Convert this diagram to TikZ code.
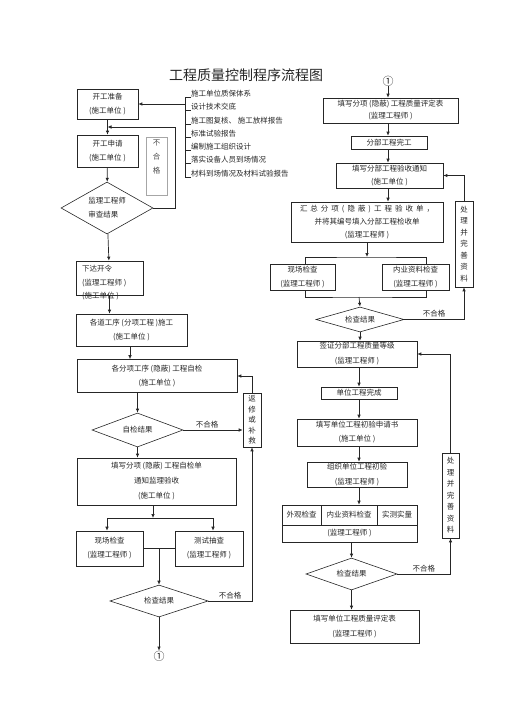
\documentclass[tikz,border=0pt]{standalone}
\usepackage{fontspec}
\setmainfont{Noto Sans CJK SC}
\usetikzlibrary{arrows.meta, positioning, shapes.geometric}

\begin{document}
\begin{tikzpicture}[x=1pt, y=-1pt,
  font=\fontsize{7.5pt}{14pt}\selectfont,
  every node/.style={text=black!85},
  box/.style={draw=black!85, line width=0.6pt, inner sep=0pt, align=center},
  vbox/.style={draw=black!85, line width=0.6pt, inner sep=0pt, align=center, font=\fontsize{7.5pt}{11.5pt}\selectfont},
  dia/.style={diamond, draw=black!85, line width=0.6pt, inner sep=0pt, align=center},
  item/.style={anchor=west, inner sep=0pt},
  lbl/.style={above, inner sep=2pt},
  arr/.style={-{Latex[length=4pt, width=3.5pt]}, line width=0.7pt, draw=black!85},
  lin/.style={line width=0.6pt, draw=black!85}
]
\useasboundingbox (0,0) rectangle (505,714);

\node (title) at (246,75) [font=\fontsize{14pt}{14pt}\selectfont] {工程质量控制程序流程图};

% left column
\node[box, minimum width=61pt, minimum height=30pt] (kaigong) at (107.5,104) {开工准备\\(施工单位 )};
\node[box, minimum width=61pt, minimum height=32pt] (shenqing) at (107.5,151) {开工申请\\(施工单位 )};
\node[draw=black!35, minimum width=21pt, minimum height=58pt, inner sep=0pt] (bhgbox) at (156.5,166) {};
\node[align=center, inner sep=0pt, text=black!70] (bhgtxt) at (156.5,157) {不\\合\\格};
\node[dia, aspect=1.8, minimum width=92pt, minimum height=52pt, align=left] (shencha) at (107,208) {监理工程师\\审查结果};
\node[box, minimum width=67pt, minimum height=34pt] (xiada) at (109.5,278) {};
\node[anchor=north west, align=left, inner sep=0pt, font=\fontsize{7.5pt}{13.5pt}\selectfont] (xiadatxt) at (82,265) {下达开令\\(监理工程师 )\\(施工单位 )};
\node[box, minimum width=111pt, minimum height=32pt] (gedao) at (131.5,330) {各道工序 (分项工程 )施工\\(施工单位 )};
\node[box, minimum width=160pt, minimum height=33pt] (zijian) at (157,376) {各分项工序 (隐蔽) 工程自检\\(施工单位 )};
\node[dia, aspect=2.7, minimum width=91pt, minimum height=34pt] (zjjg) at (137.5,430) {自检结果};
\node[vbox, minimum width=18pt, minimum height=54pt, font=\fontsize{7.5pt}{10.5pt}\selectfont] (fanxiu) at (252,420) {返\\修\\或\\补\\救};
\node[box, minimum width=159pt, minimum height=47pt, font=\fontsize{7.5pt}{15pt}\selectfont] (tianxie) at (156.5,481.5) {填写分项 (隐蔽) 工程自检单\\通知监理验收\\(施工单位 )};
\node[box, minimum width=67pt, minimum height=35pt] (xianchang1) at (109.5,548.5) {现场检查\\(监理工程师 )};
\node[box, minimum width=68pt, minimum height=35pt] (ceshi) at (209,548.5) {测试抽查\\(监理工程师 )};
\node[dia, aspect=3, minimum width=98pt, minimum height=32pt] (jcjg1) at (159,601) {检查结果};
\node[inner sep=0pt, font=\fontsize{11pt}{11pt}\selectfont] (quan1) at (159,656) {①};

% list of preparations
\node[item] (item1) at (191,94) {施工单位质保体系};
\node[item] (item2) at (191,107) {设计技术交底};
\node[item] (item3) at (191,121) {施工图复核、 施工放样报告};
\node[item] (item4) at (191,134) {标准试验报告};
\node[item] (item5) at (191,147) {编制施工组织设计};
\node[item] (item6) at (191,160) {落实设备人员到场情况};
\node[item] (item7) at (191,174) {材料到场情况及材料试验报告};
\draw[lin] (item1.south west) -- ++(-6,0) |- (item2.south west) ++(-6,0) |- (item3.south west)
  ++(-6,0) |- (item4.south west) ++(-6,0) |- (item5.south west) ++(-6,0) |- (item6.south west)
  ++(-6,0) |- (item7.south west);
\coordinate (brk) at (185,104);
\draw[arr] (brk) -- (kaigong);

\draw[arr] (kaigong) -- (shenqing);
\draw[arr] (shenqing) -- (shencha);
\coordinate (fb1) at (175,127);
\draw[arr] (shencha.east) -| (fb1) -- (fb1 -| kaigong.south);
\draw[arr] (shencha) -- (xiada);
\draw[arr] (xiada.south) -- (xiada.south |- gedao.north);
\draw[arr] ([xshift=-1.5pt]gedao.south) -- ([xshift=-1.5pt]gedao.south |- zijian.north);
\draw[arr] (zjjg.north |- zijian.south) -- (zjjg.north);
\draw[arr] (zjjg.east) -- node[lbl, pos=0.4] {不合格} (fanxiu.west |- zjjg.east);
\draw[arr] (fanxiu.north) |- (zijian.east);
\draw[arr] (zjjg.south) -- (zjjg.south |- tianxie.north);
\coordinate (split1) at (153,518);
\draw[arr] (split1 |- tianxie.south) -- (split1);
\draw[arr] (split1) -| ([xshift=-2.5pt]xianchang1.north);
\draw[arr] (split1) -| ([xshift=4pt]ceshi.north);
\draw[lin] (xianchang1) -- (ceshi);
\draw[arr] (jcjg1.north |- xianchang1.east) -- (jcjg1.north);
\draw[arr] (jcjg1.east) -| node[lbl, pos=0.25] {不合格} (fanxiu.south);
\draw[arr] (jcjg1) -- (quan1);

% right column
\node[inner sep=0pt, font=\fontsize{11pt}{11pt}\selectfont] (quan2) at (388,81) {①};
\node[box, minimum width=135pt, minimum height=25pt, font=\fontsize{7.5pt}{12pt}\selectfont] (pingding) at (390.5,110.5) {填写分项 (隐蔽) 工程质量评定表\\(监理工程师 )};
\node[box, minimum width=76pt, minimum height=13pt] (fenbu) at (389,142.5) {分部工程完工};
\node[box, minimum width=107pt, minimum height=25pt, font=\fontsize{7.5pt}{13.5pt}\selectfont] (tongzhi) at (389.5,175.5) {填写分部工程验收通知\\(施工单位 )};
\node[box, minimum width=152pt, minimum height=40pt, font=\fontsize{7.5pt}{13pt}\selectfont] (huizong) at (367,222)
  {\makebox[134pt][s]{汇\hfill 总\hfill 分\hfill 项\hfill (\hfill 隐\hfill 蔽\hfill )\hfill 工\hfill 程\hfill 验\hfill 收\hfill 单\hfill ，}\\
   并将其编号填入分部工程检收单\hspace*{22pt}\\(监理工程师 )};
\node[box, minimum width=65pt, minimum height=26pt] (xianchang2) at (302.5,277) {现场检查\\(监理工程师 )};
\node[box, minimum width=67pt, minimum height=26pt] (neiye) at (415.5,277) {内业资料检查\\(监理工程师 )};
\node[dia, aspect=3.5, minimum width=88pt, minimum height=25pt] (jcjg2) at (360,319.5) {检查结果};
\node[vbox, minimum width=18pt, minimum height=86pt] (chuli1) at (464,244) {处\\理\\并\\完\\善\\资\\料};
\node[box, minimum width=120pt, minimum height=26pt, font=\fontsize{7.5pt}{15pt}\selectfont] (qianzheng) at (357,354) {签证分部工程质量等级\\(监理工程师 )};
\node[box, minimum width=76pt, minimum height=12pt] (danwei) at (359,393) {单位工程完成};
\node[box, minimum width=120pt, minimum height=27pt] (chuyan) at (357,432.5) {填写单位工程初验申请书\\(施工单位 )};
\node[box, minimum width=100pt, minimum height=25pt, font=\fontsize{7.5pt}{15pt}\selectfont] (zuzhi) at (357,474.5) {组织单位工程初验\\(监理工程师 )};
\node[box, minimum width=39pt, minimum height=20pt] (waiguan) at (301.5,515) {外观检查};
\node[box, minimum width=56pt, minimum height=20pt] (neiye2) at (349,515) {内业资料检查};
\node[box, minimum width=40pt, minimum height=20pt] (shice) at (397,515) {实测实量};
\node[box, minimum width=135pt, minimum height=17pt] (jianli) at (349.5,533.5) {(监理工程师 )};
\node[dia, aspect=2.8, minimum width=91pt, minimum height=32pt] (jcjg3) at (351.5,574) {检查结果};
\node[vbox, minimum width=17pt, minimum height=85pt] (chuli2) at (450.5,495.5) {处\\理\\并\\完\\善\\资\\料};
\node[box, minimum width=129pt, minimum height=33pt, font=\fontsize{7.5pt}{15pt}\selectfont] (danweiping) at (354.5,626.5) {填写单位工程质量评定表\\(监理工程师 )};

\draw[arr] (quan2) -- (quan2 |- pingding.north);
\draw[arr] (quan2 |- pingding.south) -- (quan2 |- fenbu.north);
\draw[arr] (quan2 |- fenbu.south) -- (quan2 |- tongzhi.north);
\draw[arr] (quan2 |- tongzhi.south) -- (quan2 |- huizong.north);
\coordinate (split2) at (367,257);
\draw[arr] (huizong) -- (split2);
\draw[lin] ([xshift=2.5pt]xianchang2.north) |- (split2) -| ([xshift=10.5pt]neiye.north);
\coordinate (join2) at (359,297);
\draw[lin] ([xshift=2.5pt]xianchang2.south) |- (join2) -| ([xshift=10.5pt]neiye.south);
\draw[arr] (join2) -- (jcjg2.north);
\draw[arr] (jcjg2.east) -| node[lbl, pos=0.25] {不合格} (chuli1.south);
\draw[arr] (chuli1.north) |- (tongzhi.east);
\draw[arr] (jcjg2.south) -- (jcjg2.south |- qianzheng.north);
\draw[arr] (danwei.north |- qianzheng.south) -- (danwei.north);
\draw[arr] (danwei.south) -- (danwei.south |- chuyan.north);
\draw[arr] (danwei.south |- chuyan.south) -- (danwei.south |- zuzhi.north);
\draw[arr] (danwei.south |- zuzhi.south) -- (danwei.south |- neiye2.north);
\draw[arr] (chuli2.north) |- (qianzheng.east);
\draw[arr] (jcjg3.north |- jianli.south) -- (jcjg3.north);
\draw[arr] (jcjg3.east) -| node[lbl, pos=0.25] {不合格} (chuli2.south);
\draw[arr] (jcjg3.south) -- (jcjg3.south |- danweiping.north);
\end{tikzpicture}
\end{document}
